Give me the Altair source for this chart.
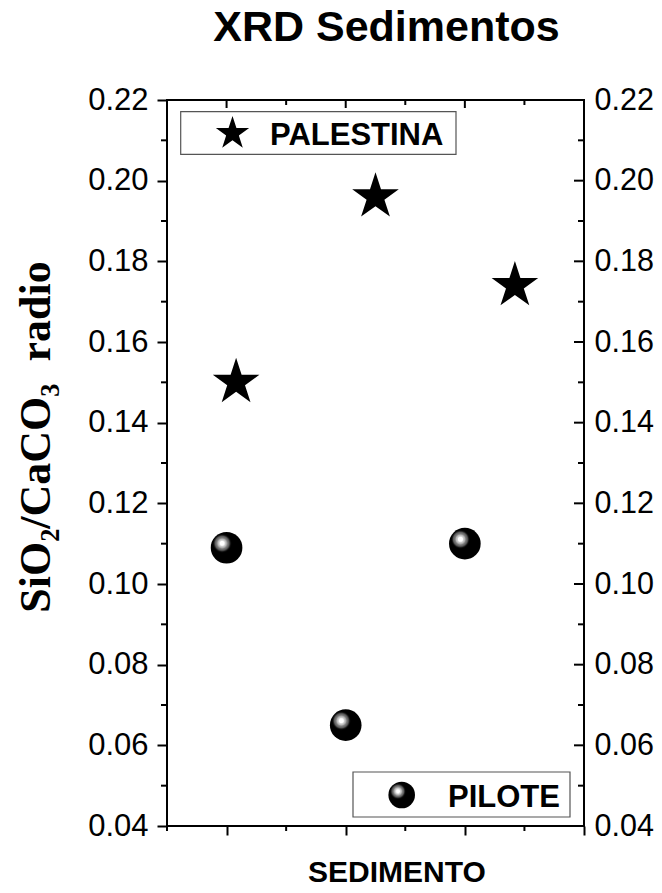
import altair as alt
import pandas as pd

# ---------------- data ----------------
title_text = ["XRD Sedimentos"]
x_title = ["SEDIMENTO"]
y_title = ["SiO₂/CaCO₃\u00a0\u00a0radio"]

pal_x = [1.08, 2.25, 3.42]
pal_y = [0.150, 0.196, 0.174]
pil_x = [1, 2, 3]
pil_y = [0.109, 0.065, 0.110]

y_major = [0.04, 0.06, 0.08, 0.10, 0.12, 0.14, 0.16, 0.18, 0.20, 0.22]
y_minor = [0.05, 0.07, 0.09, 0.11, 0.13, 0.15, 0.17, 0.19, 0.21]
x_major = [1, 2, 3, 4]
x_minor = [0.5, 1.5, 2.5, 3.5]
legend_pal = ["PALESTINA"]
legend_pil = ["PILOTE"]

# ---------------- styling ----------------
W, H = 417, 726
SANS = "Liberation Sans, Arial, sans-serif"
SERIF = "Liberation Serif, Times New Roman, serif"
STAR = ("M0,-1 L0.2245,-0.309 L0.951,-0.309 L0.3633,0.118 L0.588,0.809 "
        "L0,0.382 L-0.588,0.809 L-0.3633,0.118 L-0.951,-0.309 L-0.2245,-0.309 Z")

sphere_fill = alt.RadialGradient(
    gradient="radial",
    x1=0.36, y1=0.36, r1=0, x2=0.36, y2=0.36, r2=0.5,
    stops=[
        alt.GradientStop(offset=0.0, color="#ffffff"),
        alt.GradientStop(offset=0.14, color="#ffffff"),
        alt.GradientStop(offset=0.19, color="#d0d0d0"),
        alt.GradientStop(offset=0.29, color="#b0b0b0"),
        alt.GradientStop(offset=0.33, color="#808080"),
        alt.GradientStop(offset=0.45, color="#5a5a5a"),
        alt.GradientStop(offset=0.52, color="#151515"),
        alt.GradientStop(offset=0.58, color="#000000"),
        alt.GradientStop(offset=1.0, color="#000000"),
    ],
)

xs = alt.Scale(domain=[0.5, 4.0], nice=False, zero=False)
ys = alt.Scale(domain=[0.04, 0.22], nice=False, zero=False)

pal_df = pd.DataFrame({"x": pal_x, "y": pal_y})
pil_df = pd.DataFrame({"x": pil_x, "y": pil_y})
ymaj_df = pd.DataFrame({"v": y_major})
ymin_df = pd.DataFrame({"v": y_minor})
xmaj_df = pd.DataFrame({"v": x_major})
xmin_df = pd.DataFrame({"v": x_minor})
one = pd.DataFrame({"k": [0]})

bottom_axis = alt.Axis(values=x_major, orient="bottom", tickSize=9, tickWidth=2,
                       tickColor="black", labels=False, domain=False, grid=False,
                       title=None)
left_axis = alt.Axis(values=y_major, orient="left", tickSize=10, tickWidth=2,
                     tickColor="black", format=".2f", labelFont=SANS,
                     labelFontSize=31, labelColor="black", labelPadding=9,
                     domain=False, grid=False, title=None)
right_axis = alt.Axis(values=y_major, orient="right", ticks=False,
                      format=".2f", labelFont=SANS, labelFontSize=30.5,
                      labelColor="black", labelPadding=10,
                      domain=False, grid=False, title=None)

stars = alt.Chart(pal_df).mark_point(
    shape=STAR, filled=True, fill="black", size=2400, opacity=1, strokeWidth=0
).encode(
    x=alt.X("x:Q", scale=xs, axis=bottom_axis),
    y=alt.Y("y:Q", scale=ys, axis=left_axis),
)

spheres = alt.Chart(pil_df).mark_point(
    shape="circle", filled=True, fill=sphere_fill, size=1000, opacity=1, strokeWidth=0
).encode(
    x=alt.X("x:Q", scale=xs, axis=None),
    y=alt.Y("y:Q", scale=ys, axis=right_axis),
)

rule = dict(color="black", strokeWidth=2)

frame = alt.Chart(one).mark_rect(fill=None, filled=False, stroke="black", strokeWidth=2).encode(
    x=alt.value(0), x2=alt.value(W), y=alt.value(0), y2=alt.value(H))
left_minor = alt.Chart(ymin_df).mark_rule(**rule).encode(
    y=alt.Y("v:Q", scale=ys, axis=None), x=alt.value(-6), x2=alt.value(0))
right_major = alt.Chart(ymaj_df).mark_rule(**rule).encode(
    y=alt.Y("v:Q", scale=ys, axis=None), x=alt.value(W - 10), x2=alt.value(W))
right_minor = alt.Chart(ymin_df).mark_rule(**rule).encode(
    y=alt.Y("v:Q", scale=ys, axis=None), x=alt.value(W - 6), x2=alt.value(W))
top_major = alt.Chart(xmaj_df).mark_rule(**rule).encode(
    x=alt.X("v:Q", scale=xs, axis=None), y=alt.value(0), y2=alt.value(8))
top_minor = alt.Chart(xmin_df).mark_rule(**rule).encode(
    x=alt.X("v:Q", scale=xs, axis=None), y=alt.value(0), y2=alt.value(5))
bottom_minor = alt.Chart(xmin_df).mark_rule(**rule).encode(
    x=alt.X("v:Q", scale=xs, axis=None), y=alt.value(H), y2=alt.value(H + 5))

# legend boxes
box_pal = alt.Chart(one).mark_rect(fill="white", stroke="#555555", strokeWidth=1.2).encode(
    x=alt.value(13.7), x2=alt.value(289), y=alt.value(11.7), y2=alt.value(54.3))
box_pil = alt.Chart(one).mark_rect(fill="white", stroke="#555555", strokeWidth=1.2).encode(
    x=alt.value(186), x2=alt.value(403), y=alt.value(672), y2=alt.value(717))
leg_star = alt.Chart(one).mark_point(
    shape=STAR, filled=True, fill="black", size=1225, opacity=1, strokeWidth=0
).encode(x=alt.value(65.5), y=alt.value(33.5))
leg_sphere = alt.Chart(one).mark_point(
    shape="circle", filled=True, fill=sphere_fill, size=707, opacity=1, strokeWidth=0
).encode(x=alt.value(234.7), y=alt.value(695))
leg_pal_text = alt.Chart(pd.DataFrame({"t": legend_pal})).mark_text(
    font=SANS, fontSize=31, fontWeight="bold", align="left", baseline="alphabetic",
    color="black"
).encode(x=alt.value(103), y=alt.value(45), text="t:N")
leg_pil_text = alt.Chart(pd.DataFrame({"t": legend_pil})).mark_text(
    font=SANS, fontSize=31, fontWeight="bold", align="left", baseline="alphabetic",
    color="black"
).encode(x=alt.value(281), y=alt.value(706.7), text="t:N")

# titles
title_mark = alt.Chart(pd.DataFrame({"t": title_text})).mark_text(
    font=SANS, fontSize=43, fontWeight="bold", align="center", baseline="alphabetic",
    color="black"
).encode(x=alt.value(219.5), y=alt.value(-59), text="t:N")
xtitle_mark = alt.Chart(pd.DataFrame({"t": x_title})).mark_text(
    font=SANS, fontSize=30, fontWeight="bold", align="center", baseline="alphabetic",
    color="black"
).encode(x=alt.value(230), y=alt.value(782), text="t:N")
ytitle_mark = alt.Chart(pd.DataFrame({"t": y_title})).mark_text(
    font=SERIF, fontSize=44, fontWeight="bold", align="center", baseline="alphabetic",
    angle=270, color="black"
).encode(x=alt.value(-117), y=alt.value(337), text="t:N")

chart = alt.layer(
    box_pal, box_pil,
    left_minor, right_major, right_minor, top_major, top_minor, bottom_minor,
    stars, spheres, leg_star, leg_sphere, leg_pal_text, leg_pil_text,
    title_mark, xtitle_mark, ytitle_mark, frame,
).resolve_axis(
    x="independent", y="independent"
).properties(
    width=W, height=H,
    autosize=alt.AutoSizeParams(type="none"),
    padding={"left": 159, "top": 92, "right": 70, "bottom": 58},
).configure_view(
    stroke=None
).configure(background="white")

chart.save("out.html", embed_options={"renderer": "svg", "actions": False})
